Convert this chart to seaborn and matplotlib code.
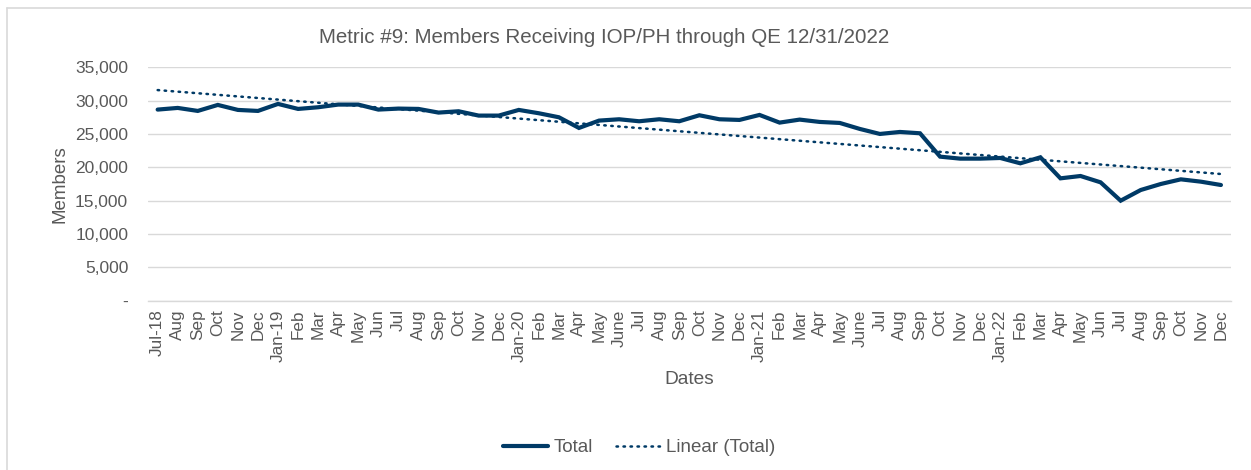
"""
Line chart of members receiving IOP/PH with a linear trend line.
"""
import matplotlib
matplotlib.use("Agg")
import matplotlib.pyplot as plt
import seaborn as sns
import numpy as np
import pandas as pd
from matplotlib.ticker import FuncFormatter, FixedLocator

months = ["Jul-18", "Aug", "Sep", "Oct", "Nov", "Dec",
          "Jan-19", "Feb", "Mar", "Apr", "May", "Jun", "Jul", "Aug", "Sep", "Oct", "Nov", "Dec",
          "Jan-20", "Feb", "Mar", "Apr", "May", "June", "Jul", "Aug", "Sep", "Oct", "Nov", "Dec",
          "Jan-21", "Feb", "Mar", "Apr", "May", "June", "Jul", "Aug", "Sep", "Oct", "Nov", "Dec",
          "Jan-22", "Feb", "Mar", "Apr", "May", "Jun", "Jul", "Aug", "Sep", "Oct", "Nov", "Dec"]

members = [28650, 28900, 28450, 29350, 28600, 28450,
           29500, 28750, 29000, 29400, 29400, 28650, 28800, 28750, 28200, 28400, 27750, 27750,
           28600, 28100, 27500, 25900, 27000, 27200, 26900, 27200, 26900, 27800, 27200, 27100,
           27850, 26700, 27150, 26800, 26650, 25750, 25000, 25300, 25100, 21600, 21300, 21300,
           21400, 20600, 21500, 18350, 18700, 17750, 15000, 16600, 17500, 18200, 17850, 17350]

navy = "#003A66"
grey_text = "#595959"

sns.set_theme(style="white")
plt.rcParams["font.family"] = ["Liberation Sans", "DejaVu Sans"]

df = pd.DataFrame({"idx": np.arange(len(members)), "Total": members})
slope, intercept = np.polyfit(df["idx"], df["Total"], 1)
df["Linear (Total)"] = intercept + slope * df["idx"]

fig = plt.figure(figsize=(12.51, 4.70), dpi=100)
ax = fig.add_axes([0.118, 0.36, 0.866, 0.497])

sns.lineplot(data=df, x="idx", y="Total", ax=ax, color=navy, linewidth=3.0,
             label="Total", solid_joinstyle="miter")
sns.lineplot(data=df, x="idx", y="Linear (Total)", ax=ax, color=navy, linewidth=1.8,
             linestyle=(0, (0.6, 2.2)), dash_capstyle="round", label="Linear (Total)")

ax.set_xlim(-0.5, len(members) - 0.5)
ax.set_ylim(0, 35000)
ax.set_yticks(np.arange(0, 35001, 5000))
ax.yaxis.set_major_formatter(FuncFormatter(lambda v, p: "-" if v == 0 else f"{v:,.0f}"))
ax.grid(axis="y", color="#d9d9d9", linewidth=1.0)
ax.set_axisbelow(True)

ax.set_xticks(np.arange(len(months)))
ax.set_xticklabels(months, rotation=90, fontsize=12.3, color=grey_text)
ax.xaxis.set_minor_locator(FixedLocator(np.arange(-0.5, len(months), 1)))
ax.tick_params(axis="x", which="major", length=0, pad=6)
ax.tick_params(axis="x", which="minor", length=5, color="#d9d9d9", width=1, direction="out")
ax.tick_params(axis="y", length=0, labelsize=12.5, labelcolor=grey_text, pad=14)

for s in ["top", "right", "left"]:
    ax.spines[s].set_visible(False)
ax.spines["bottom"].set_color("#d9d9d9")
ax.spines["bottom"].set_linewidth(1.0)

ax.set_xlabel("Dates", fontsize=13.8, color=grey_text, labelpad=7)
ax.set_ylabel("Members", fontsize=13.5, color=grey_text, labelpad=5)
fig.text(0.483, 0.92, "Metric #9: Members Receiving IOP/PH through QE 12/31/2022",
         ha="center", va="center", fontsize=14.8, color=grey_text)

ax.legend(loc="center", bbox_to_anchor=(0.511, 0.0475), bbox_transform=fig.transFigure,
          ncol=2, frameon=False, fontsize=13.5, handlelength=2.4, columnspacing=1.2,
          handletextpad=0.3, labelcolor=grey_text)

# chart border (top and left edges visible in the original)
fig.add_artist(plt.Line2D([7 / 1251, 1], [1 - 8 / 470] * 2, transform=fig.transFigure,
                          color="#d9d9d9", linewidth=1.2))
fig.add_artist(plt.Line2D([7 / 1251] * 2, [0, 1 - 8 / 470], transform=fig.transFigure,
                          color="#d9d9d9", linewidth=1.2))

fig.savefig("out.png", dpi=100, facecolor="white")
plt.close(fig)
